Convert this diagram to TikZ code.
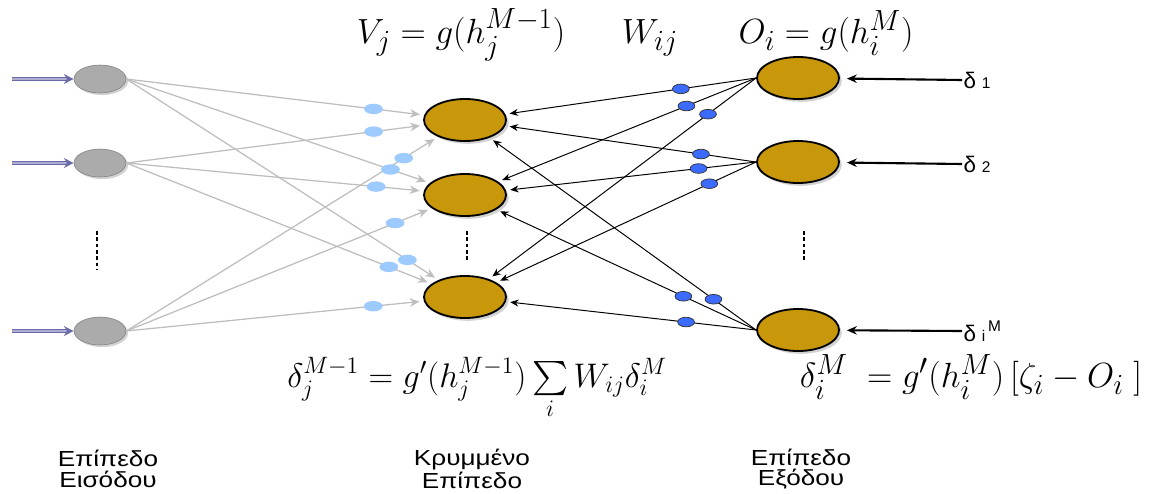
\documentclass[tikz,border=0pt]{standalone}
\usepackage{exscale}
\usepackage{fontspec}
\usepackage{tikz}
\usetikzlibrary{arrows.meta,shapes.geometric,shadows,positioning}
\newfontfamily\grfont[FakeStretch=1.2]{Liberation Sans}
\newfontfamily\dfont{Liberation Sans}
\definecolor{netGold}{HTML}{C8970A}
\definecolor{netGray}{HTML}{ABABAB}
\definecolor{netLine}{HTML}{BEBEBE}
\definecolor{netSky}{HTML}{9DCBFF}
\definecolor{netBlue}{HTML}{3B6BFF}
\definecolor{netPurple}{HTML}{6A6AA8}

\begin{document}
\begin{tikzpicture}[
  x=0.025cm, y=-0.025cm,
  >=Stealth,
  in node/.style={ellipse, fill=netGray, draw=gray, line width=0.4pt, minimum width=1.3cm, minimum height=0.7cm, inner sep=0pt,
    drop shadow={shadow xshift=1.5pt, shadow yshift=-1.5pt, opacity=0.35}},
  unit node/.style={ellipse, fill=netGold, draw=black, line width=1.3pt, minimum width=2.05cm, minimum height=1.05cm, inner sep=0pt,
    drop shadow={shadow xshift=2pt, shadow yshift=-2pt, opacity=0.35}},
  sky syn/.style={ellipse, fill=netSky, minimum width=0.47cm, minimum height=0.26cm, inner sep=0pt},
  blue syn/.style={ellipse, fill=netBlue, draw=black!80, line width=0.5pt, minimum width=0.42cm, minimum height=0.24cm, inner sep=0pt},
  fwd line/.style={draw=netLine, line width=0.9pt, -{Stealth[length=7pt,width=6pt]}, shorten >=3pt},
  back line/.style={draw=black, line width=0.7pt, -{Stealth[length=6pt,width=5pt]}, shorten >=3pt},
  in line/.style={draw=netPurple, double=netPurple!55, double distance=1.1pt, line width=0.9pt, -{Stealth[length=7pt,width=7pt]}},
  delta line/.style={draw=black, line width=1.5pt, -{Stealth[length=7pt,width=6pt]}, shorten >=5pt},
  gap dots/.style={line width=1.5pt, dash pattern=on 2.5pt off 2pt},
  layer label/.style={font=\grfont\fontsize{15.5}{14.5}\selectfont, align=center, inner sep=0pt},
  delta label/.style={font=\dfont\fontsize{16}{16}\selectfont, anchor=west, inner sep=1pt},
  formula/.style={font=\Huge, anchor=base, inner sep=0pt},
]

% input, hidden and output layers
\node[in node] (i1) at (100,79) {};
\node[in node] (i2) at (100,163) {};
\node[in node] (i3) at (100,331) {};
\node[unit node] (h1) at (465,120) {};
\node[unit node] (h2) at (465,195) {};
\node[unit node] (h3) at (465,297) {};
\node[unit node] (o1) at (798,78) {};
\node[unit node] (o2) at (798,162) {};
\node[unit node] (o3) at (798,330) {};

% vertical dots
\draw[gap dots] (97,231) -- (97,270);
\draw[gap dots] (467,231) -- (467,262);
\draw[gap dots] (804,231) -- (804,262);

% incoming signals
\foreach \k/\yy in {1/79, 2/163, 3/331} {
  \coordinate (x\k) at (12,\yy);
  \draw[in line] (x\k) -- (i\k);
}

% forward connections with synapses
\foreach \a/\b/\p in {1/1/0.83, 2/1/0.83, 3/1/0.89, 1/2/0.87, 2/2/0.84, 3/2/0.88, 1/3/0.9, 2/3/0.86, 3/3/0.83}
  \draw[fwd line] (i\a.east) -- node[sky syn, pos=\p] {} (h\b);

% backward error paths
\foreach \a/\b/\p in {1/1/0.30, 1/2/0.27, 1/3/0.18, 2/1/0.22, 2/2/0.23, 2/3/0.18, 3/1/0.16, 3/2/0.28, 3/3/0.28}
  \draw[back line] (o\a.west) -- node[blue syn, pos=\p] {} (h\b);

% error signals
\node[delta label] (d1) at (962,80) {δ\hspace{4pt}\fontsize{11}{11}\selectfont 1};
\node[delta label] (d2) at (962,164) {δ\hspace{4pt}\fontsize{11}{11}\selectfont 2};
\node[delta label] (d3) at (962,331) {δ\hspace{4pt}\fontsize{11}{11}\selectfont i\hspace{2pt}\raisebox{7pt}{M}};
\foreach \k in {1,2,3}
  \draw[delta line] (d\k.west) -- (o\k);

% formulas
\node[formula] (fv) at (461,43) {$V_j = g(h_j^{M-1})$};
\node[formula] (fw) at (650,43) {$W_{ij}$};
\node[formula] (fo) at (826,43) {$O_i = g(h_i^{M})$};
\node[formula, font=\huge] (fdj) at (477,387) {\scalebox{1.17}{$\delta_j^{M-1} = g'(h_j^{M-1})\sum\limits_i W_{ij}\delta_i^M$}};
\node[formula] (fdi) at (971,387) {$\delta_i^{M} \;= g'(h_i^{M})\,[\zeta_i - O_i\;]$};

% layer names
\node[layer label] (l1) at (108,469) {Επίπεδο\\Εισόδου};
\node[layer label] (l2) at (472,469) {Κρυμμένο\\Επίπεδο};
\node[layer label] (l3) at (801,469) {Επίπεδο\\Εξόδου};

\useasboundingbox (0,0) rectangle (1175,493);
\end{tikzpicture}
\end{document}
